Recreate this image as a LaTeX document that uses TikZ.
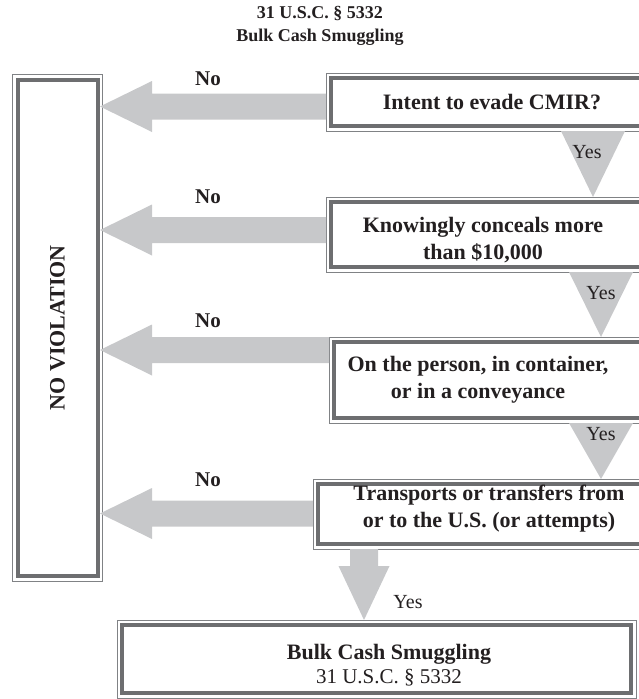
\documentclass[tikz,border=0pt]{standalone}
\usepackage{fontspec}
\setmainfont{Liberation Serif}
\usetikzlibrary{calc}
\definecolor{ink}{HTML}{231F20}
\definecolor{framegray}{HTML}{6D6E70}
\definecolor{rimgray}{HTML}{808285}
\definecolor{arrowgray}{HTML}{C7C8CA}

\begin{document}
\begin{tikzpicture}[x=1pt,y=1pt,
  framebox/.style={rectangle, draw=rimgray, line width=0.9pt, fill=white,
    inner sep=0pt, outer sep=0pt, anchor=north west,
    path picture={\draw[framegray, line width=4pt]
      ([shift={(5,5)}]path picture bounding box.south west) rectangle
      ([shift={(-5,-5)}]path picture bounding box.north east);}},
  boxtext/.style={text=ink, align=center, font=\fontsize{22}{27}\selectfont\bfseries},
  titletext/.style={text=ink, align=center, font=\fontsize{18}{23}\selectfont\bfseries},
  nolabel/.style={text=ink, font=\fontsize{21}{25}\selectfont\bfseries},
  yeslabel/.style={text=ink, font=\fontsize{20}{24}\selectfont},
  arrowfill/.style={fill=arrowgray}
]
\useasboundingbox (0,0) rectangle (639,-699);
\clip (0,0) rectangle (639,-699);

% title
\node[titletext] (title) at (320,-25.5) {31 U.S.C. \S\ 5332\\Bulk Cash Smuggling};

% outcome box on the left
\node[framebox, minimum width=90, minimum height=506.5] (nov) at (12.5,-74.5) {};
\node[text=ink, rotate=90, font=\fontsize{22}{26}\selectfont\bfseries] (novtext) at (nov.center) {NO VIOLATION};
\coordinate (novtip) at ([xshift=-2.5pt]nov.east);

% question boxes (they run past the right edge)
\node[framebox, minimum width=374, minimum height=58] (b1) at (326,-73) {};
\node[framebox, minimum width=374, minimum height=75] (b2) at (326,-197) {};
\node[framebox, minimum width=371, minimum height=86] (b3) at (329,-337) {};
\node[framebox, minimum width=387, minimum height=70] (b4) at (313,-479) {};
\node[framebox, minimum width=519, minimum height=78] (b5) at (117,-620) {};

% "No" arrows into NO VIOLATION
\fill[arrowfill] (b1.west |- 0,-93.5) -- (152,-93.5) -- (152,-81) -- (novtip |- 0,-106.5)
  -- (152,-132) -- (152,-119.5) -- (b1.west |- 0,-119.5) -- cycle;
\fill[arrowfill] (b2.west |- 0,-217) -- (152,-217) -- (152,-204.5) -- (novtip |- 0,-230)
  -- (152,-255.5) -- (152,-243) -- (b2.west |- 0,-243) -- cycle;
\fill[arrowfill] (b3.west |- 0,-337) -- (152,-337) -- (152,-324.5) -- (novtip |- 0,-350)
  -- (152,-375.5) -- (152,-363) -- (b3.west |- 0,-363) -- cycle;
\fill[arrowfill] (b4.west |- 0,-500.5) -- (152,-500.5) -- (152,-488) -- (novtip |- 0,-513.5)
  -- (152,-539) -- (152,-526.5) -- (b4.west |- 0,-526.5) -- cycle;

% "Yes" wedges between the questions
\fill[arrowfill] (561,0 |- b1.south) -- (625,0 |- b1.south) -- (593,0 |- b2.north) -- cycle;
\fill[arrowfill] (569,0 |- b2.south) -- (633,0 |- b2.south) -- (601,0 |- b3.north) -- cycle;
\fill[arrowfill] (569,0 |- b3.south) -- (633,0 |- b3.south) -- (601,0 |- b4.north) -- cycle;

% final "Yes" arrow down to the result
\fill[arrowfill] (350,0 |- b4.south) -- (350,-566) -- (338.5,-566) -- (364,0 |- b5.north)
  -- (389.5,-566) -- (378,-566) -- (378,0 |- b4.south) -- cycle;

% box texts
\node[boxtext] (t1) at (492,-102) {Intent to evade CMIR?};
\node[boxtext] (t2) at (483,-240) {Knowingly conceals more\\than \$10,000};
\node[boxtext] (t3) at (478,-379.5) {On the person, in container,\\or in a conveyance};
\node[boxtext] (t4) at (489,-508.5) {Transports or transfers from\\or to the U.S. (or attempts)};
\node[text=ink, align=center, font=\fontsize{21}{24}\selectfont] (t5) at (389,-665.5)
  {{\fontsize{22}{24}\selectfont\bfseries Bulk Cash Smuggling}\\31 U.S.C. \S\ 5332};

% labels
\node[nolabel] (no1) at (208,-79) {No};
\node[nolabel] (no2) at (208,-197) {No};
\node[nolabel] (no3) at (208,-321) {No};
\node[nolabel] (no4) at (208,-480) {No};
\node[yeslabel] (yes1) at (587,-152) {Yes};
\node[yeslabel] (yes2) at (601,-293) {Yes};
\node[yeslabel] (yes3) at (601,-434) {Yes};
\node[yeslabel] (yes4) at (408,-602) {Yes};
\end{tikzpicture}
\end{document}
